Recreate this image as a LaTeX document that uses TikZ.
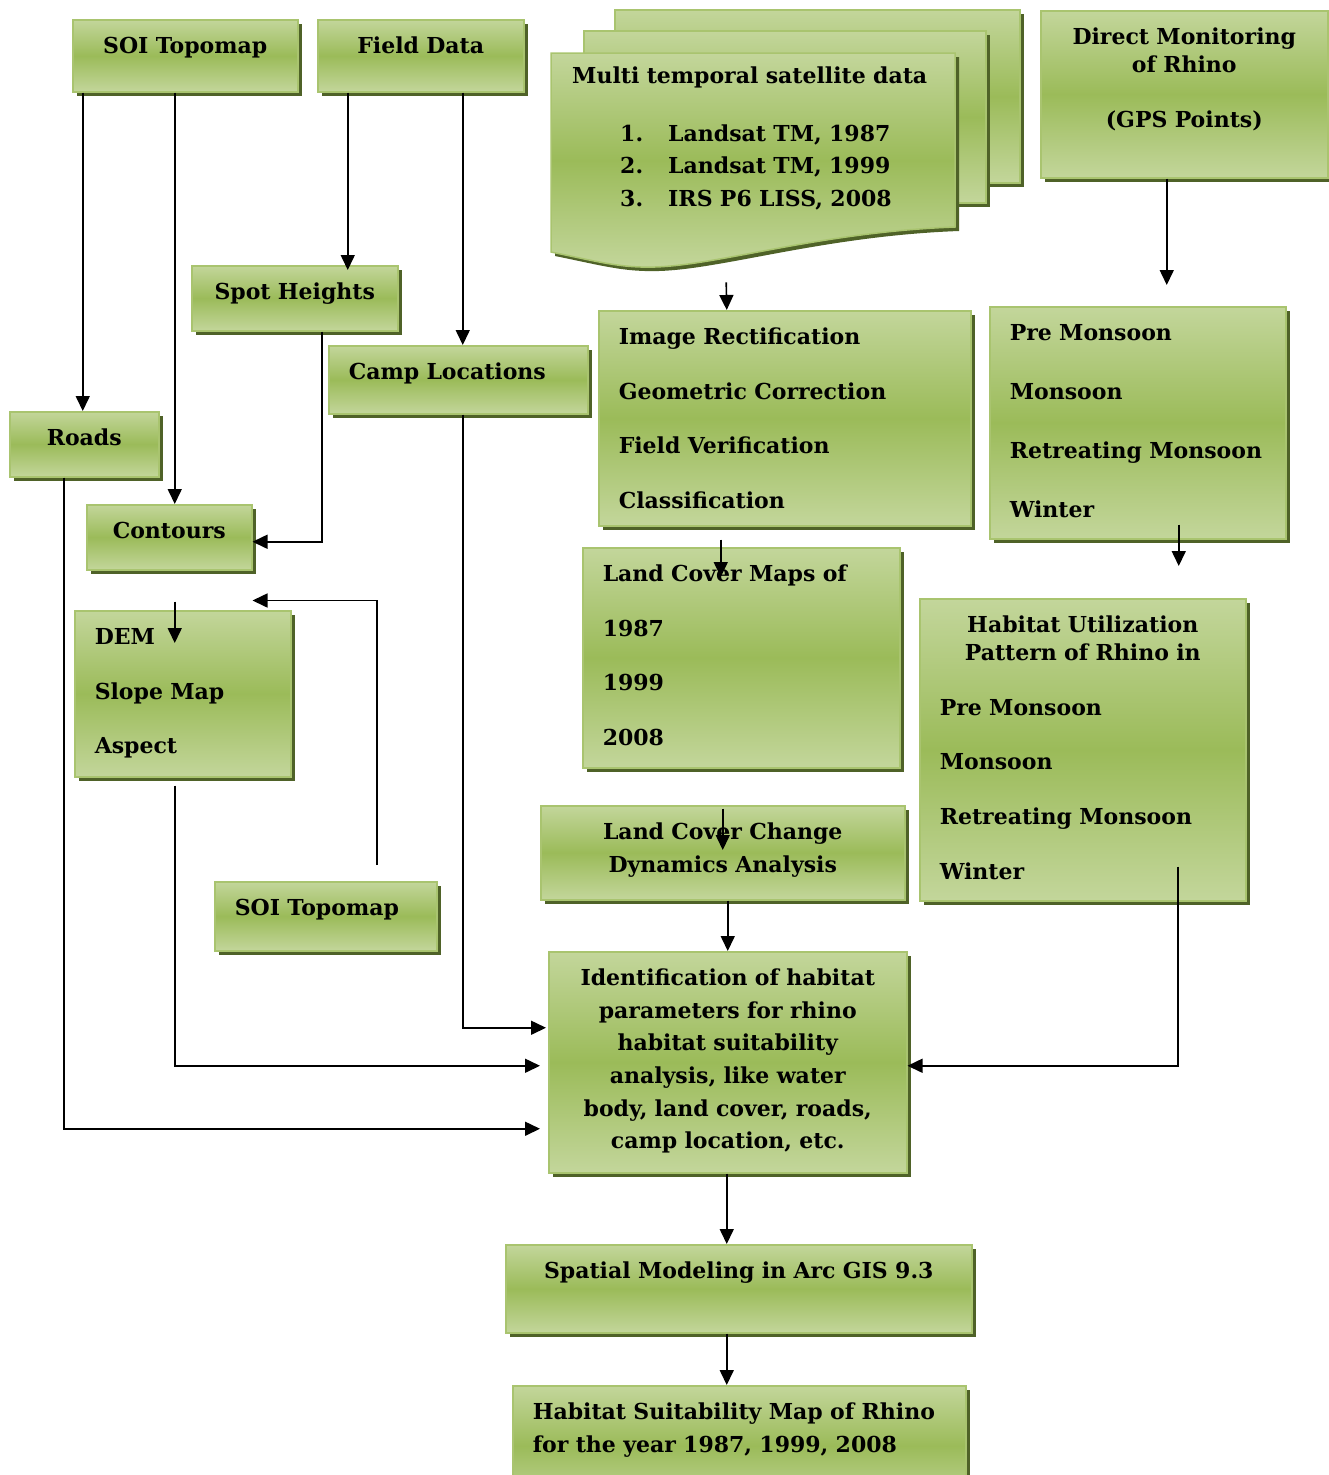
\documentclass[tikz,border=0pt]{standalone}
\usepackage{fontspec}
\setmainfont{DejaVu Serif}
\usepackage{tikz}
\usetikzlibrary{arrows.meta, shadows}
\definecolor{olivelight}{HTML}{C3D69B}
\definecolor{olivemid}{HTML}{9BBB59}
\definecolor{oliveedge}{HTML}{A9C46F}
\definecolor{olivedark}{HTML}{4F6228}
\tikzstyle{stage} = [rectangle, anchor=north west, draw=oliveedge, line width=1.5pt, top color=olivelight, bottom color=olivelight, middle color=olivemid, drop shadow={shadow xshift=4pt, shadow yshift=-4pt, fill=olivedark, opacity=1}, inner xsep=20pt, inner ysep=0pt, text height=34pt, font=\fontsize{22}{32.6}\selectfont\bfseries]
\tikzstyle{page} = [draw=oliveedge, line width=1.5pt, top color=olivelight, bottom color=olivelight, middle color=olivemid, drop shadow={shadow xshift=4pt, shadow yshift=-4pt, fill=olivedark, opacity=1}]
\tikzstyle{arrow} = [line width=1.6pt, -{Triangle[length=15pt,width=14pt]}]

\begin{document}
\begin{tikzpicture}[x=1pt, y=-1pt]
\useasboundingbox (0,0) rectangle (1329,1475);

% Left side: map and field sources
\node (soitop) [stage, text width=185pt, text depth=38pt, align=center] at (72,19) {SOI Topomap};
\node (field) [stage, text width=166pt, text depth=38pt, align=center] at (317,19) {Field Data};
\node (spot) [stage, text width=166pt, text depth=31pt, align=center] at (191,265) {Spot Heights};
\node (camp) [stage, text width=219pt, text depth=34pt, align=left] at (328,345) {Camp Locations};
\node (roads) [stage, text width=109pt, text depth=31pt, align=center] at (9,411) {Roads};
\node (contours) [stage, text width=125pt, text depth=31pt, align=center] at (86,504) {Contours};
\node (dem) [stage, text width=176pt, text depth=132pt, align=left] at (74,610) {DEM\\[22pt]Slope Map\\[22pt]Aspect};
\node (soilow) [stage, text width=182pt, text depth=35pt, align=left] at (214,881) {SOI Topomap};

% Satellite data (stacked pages)
\path [page] (615,10) rectangle (1020,183);
\path [page] (584,31) rectangle (986,203);
\path [page] (551,53) -- (955,53) -- (955,227) .. controls (820,232) and (720,265) .. (655,267) .. controls (620,268) and (600,262) .. (551,252) -- cycle;
\node (sat) [anchor=north west, inner xsep=21pt, inner ysep=0pt, text width=364pt, text height=30pt, text depth=184pt, align=left, font=\fontsize{22}{32.6}\selectfont\bfseries] at (551,53) {Multi temporal satellite data\\[25.4pt]
\hspace*{48pt}\makebox[48pt][l]{1.}Landsat TM, 1987\\
\hspace*{48pt}\makebox[48pt][l]{2.}Landsat TM, 1999\\
\hspace*{48pt}\makebox[48pt][l]{3.}IRS P6 LISS, 2008};

% Middle: processing
\node (rect) [stage, text width=332pt, text depth=181pt, align=left] at (598,310) {Image Rectification\\[22pt]Geometric Correction\\[22pt]Field Verification\\[22pt]Classification};
\node (lcmaps) [stage, text width=277pt, text depth=186pt, align=left] at (582,547) {Land Cover Maps of\\[22pt]1987\\[22pt]1999\\[22pt]2008};
\node (change) [stage, text width=324pt, text depth=60pt, align=center] at (540,805) {Land Cover Change\\Dynamics Analysis};

% Right side: rhino monitoring
\node (direct) [stage, text width=247pt, text depth=133pt, align=center] at (1040,10) {Direct Monitoring\\[-4.6pt]of Rhino\\[22pt](GPS Points)};
\node (season) [stage, text width=256pt, text depth=198pt, align=left] at (989,306) {Pre Monsoon\\[26.4pt]Monsoon\\[26.4pt]Retreating Monsoon\\[26.4pt]Winter};
\node (util) [stage, text width=286pt, text depth=268pt, align=left] at (919,598) {\makebox[286pt]{Habitat Utilization}\\[-4.6pt]\makebox[286pt]{Pattern of Rhino in}\\[22pt]Pre Monsoon\\[22pt]Monsoon\\[22pt]Retreating Monsoon\\[22pt]Winter};

% Bottom: synthesis
\node (ident) [stage, text width=318pt, text depth=187pt, align=center] at (548,951) {Identification of habitat\\parameters for rhino\\habitat suitability\\analysis, like water\\body, land cover, roads,\\camp location, etc.};
\node (spatial) [stage, text width=426pt, text depth=54pt, align=center] at (505,1244) {Spatial Modeling in Arc GIS 9.3};
\node (hsmap) [stage, text width=413pt, text depth=86pt, align=left] at (512,1385) {Habitat Suitability Map of Rhino\\for the year 1987, 1999, 2008};

% Arrows
\draw [arrow] ([xshift=-102.5pt]soitop.south) -- ([xshift=-1.5pt]roads.north);
\draw [arrow] ([xshift=-10.5pt]soitop.south) -- ([xshift=5.5pt]contours.north);
\draw [arrow] ([xshift=-73pt]field.south) -- ([xshift=53pt,yshift=-5pt]spot.north);
\draw [arrow] ([xshift=42pt]field.south) -- ([xshift=4.5pt]camp.north);
\draw [arrow] ([xshift=27pt]spot.south) |- ([yshift=-4.5pt]contours.east);
\draw [arrow] ([xshift=5.5pt,yshift=-31pt]contours.south) -- ([xshift=-8pt,yshift=-33pt]dem.north);
\draw [arrow] ([xshift=51pt,yshift=16pt]soilow.north) |- ([yshift=-30pt]contours.south east);
\draw [arrow] ([xshift=4.5pt]camp.south) |- ([xshift=-2pt,yshift=34.5pt]ident.west);
\draw [arrow] ([xshift=-8pt,yshift=-8pt]dem.south) |- ([xshift=-8pt,yshift=-3.5pt]ident.west);
\draw [arrow] ([xshift=-20.5pt]roads.south) |- ([xshift=-8pt,yshift=-66.5pt]ident.west);

\draw [arrow] ([xshift=-28pt,yshift=-15pt]sat.south) -- ([xshift=-58pt]rect.north);
\draw [arrow] ([xshift=-64pt,yshift=-13pt]rect.south) -- ([xshift=-20.5pt,yshift=-30pt]lcmaps.north);
\draw [arrow] ([xshift=-18.5pt,yshift=-40pt]lcmaps.south) -- ([yshift=-45pt]change.north);
\draw [arrow] ([xshift=5pt]change.south) -- (ident.north);

\draw [arrow] ([xshift=-17.5pt]direct.south) -- ([xshift=29pt,yshift=21pt]season.north);
\draw [arrow] ([xshift=41pt,yshift=15pt]season.south) -- ([xshift=96pt,yshift=32pt]util.north);
\draw [arrow] ([xshift=95pt,yshift=35pt]util.south) |- ([yshift=-3.5pt]ident.east);

\draw [arrow] ([xshift=-1pt]ident.south) -- ([xshift=-12pt]spatial.north);
\draw [arrow] ([xshift=-12pt]spatial.south) -- ([xshift=-12.5pt]hsmap.north);

\end{tikzpicture}
\end{document}
